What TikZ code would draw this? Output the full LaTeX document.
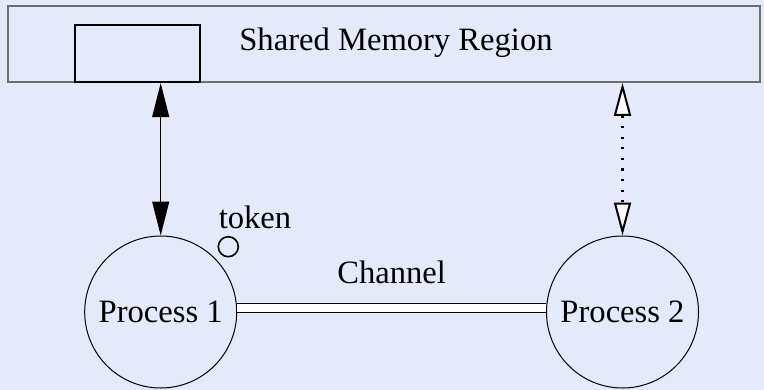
\documentclass[tikz,border=0pt]{standalone}
\usepackage{fontspec}
\setmainfont{Liberation Serif}
\usetikzlibrary{arrows.meta,positioning}
\definecolor{paleblue}{HTML}{E4EAFA}
\definecolor{frame}{HTML}{6E6E6E}

\begin{document}
\begin{tikzpicture}[
  x=0.5pt,y=-0.5pt,
  every node/.style={font=\rmfamily\fontsize{16.3}{19}\selectfont,inner sep=0pt},
  region/.style={draw=frame,line width=0.8pt,minimum width=376pt,minimum height=38pt},
  slot/.style={draw,line width=1.1pt,minimum width=62.5pt,minimum height=28.5pt},
  proc/.style={circle,draw,line width=0.5pt,minimum size=76pt},
  tok/.style={circle,draw,line width=0.8pt,minimum size=10pt},
  arr/.style={{Triangle[length=17pt,width=8.5pt]}-{Triangle[length=17pt,width=8.5pt]},line width=0.5pt},
  oarr/.style={{Triangle[length=16.5pt,width=8.5pt,fill=white,line width=1pt]}-{Triangle[length=16.5pt,width=8.5pt,fill=white,line width=1pt]},
               line width=1.1pt,dash pattern=on 1.1pt off 4.2pt},
  chan/.style={double,double distance=4pt,line width=0.6pt}
]
\fill[paleblue] (0,0) rectangle (764,390);
\useasboundingbox (0,0) rectangle (764,390);

\node[region] (region) at (384,44) {};
\node (regionname) at (396,43) {Shared Memory Region};
\node[slot] (slot) at (137.5,53.5) {};

\node[proc] (p1) at (160.7,312) {Process 1};
\node[proc] (p2) at (622.5,312) {Process 2};
\node[tok] (tok) at (228.3,246.7) {};
\node (toklabel) at (255,217) {token};

\draw[arr] (p1.north |- slot.south) -- (p1.north);
\draw[oarr] (p2.north |- region.south) -- (p2.north);
\draw[chan] ([yshift=2pt]p1.east) -- node[above=12pt] (chanlabel) {Channel} ([yshift=2pt]p2.west);
\end{tikzpicture}
\end{document}
